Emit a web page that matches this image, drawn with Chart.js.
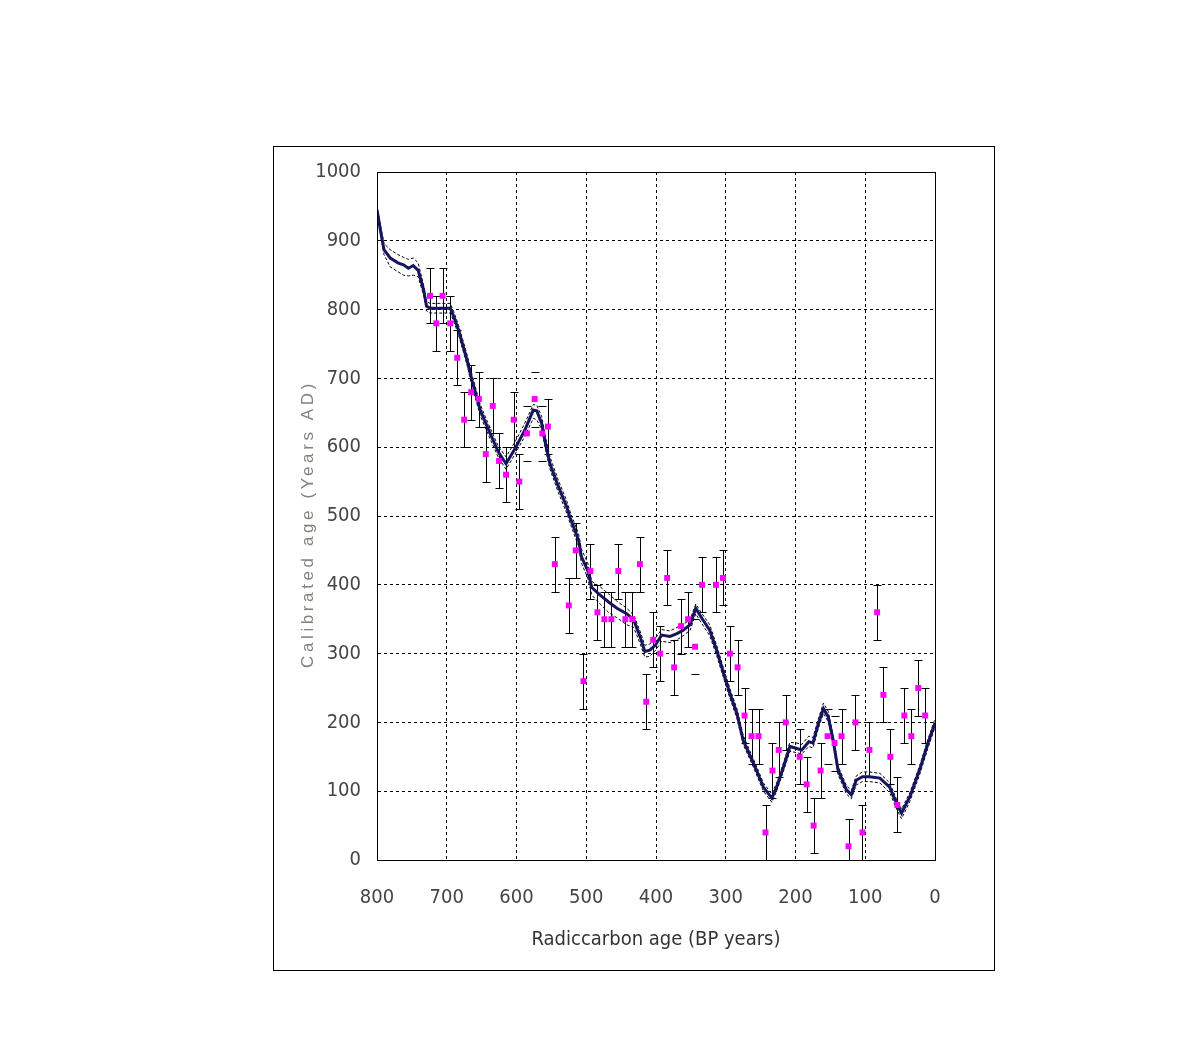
<!DOCTYPE html>
<html>
<head>
<meta charset="utf-8">
<script src="https://cdn.jsdelivr.net/npm/chart.js@4.4.1/dist/chart.umd.min.js"></script>
<style>
  html, body { margin: 0; padding: 0; background: #fff; }
  #wrap { width: 1190px; height: 1046px; }
</style>
</head>
<body>
<div id="wrap"><canvas id="calChart" width="1190" height="1046"></canvas></div>
<script>
// calibration curve (radiocarbon BP -> calendar AD)
const calAge = [800, 795, 790, 781, 770, 762, 755, 748, 741, 733, 729, 724, 710, 695, 690, 683, 671, 664, 652, 640,
  626, 615, 602, 588, 576, 571, 564, 557, 552, 540, 528, 523, 511, 507, 498, 492, 480, 468, 456, 442,
  432, 423, 416, 409, 401, 392, 380, 370, 361, 351, 343, 334, 323, 313, 303, 294, 284, 275, 260, 246,
  234, 227, 217, 208, 198, 191, 181, 175, 167, 160, 153, 146, 139, 127, 120, 113, 104, 94, 79, 65,
  55, 48, 36, 22, 10, 0];
const calMid = [945, 915, 887, 875, 868, 865, 860, 864, 857, 828, 805, 802, 802, 802, 790, 770, 727, 698, 654, 625,
  593, 576, 598, 625, 654, 653, 635, 598, 576, 543, 513, 497, 465, 441, 421, 396, 385, 375, 366, 358,
  349, 325, 303, 305, 312, 327, 325, 329, 334, 342, 366, 351, 334, 305, 271, 242, 213, 174, 140, 106,
  90, 106, 136, 165, 162, 160, 172, 170, 199, 220, 208, 174, 131, 102, 95, 116, 121, 121, 119, 106,
  82, 68, 92, 131, 170, 199];
const calUpper = [950, 922, 896, 887, 880, 876, 873, 875, 868, 835, 812, 809, 809, 809, 797, 777, 735, 706, 662, 633,
  601, 586, 608, 635, 662, 661, 645, 608, 586, 552, 522, 506, 474, 452, 432, 405, 397, 387, 376, 366,
  356, 333, 312, 314, 322, 335, 333, 338, 342, 350, 372, 358, 342, 312, 278, 249, 220, 181, 146, 112,
  96, 112, 142, 171, 170, 168, 180, 178, 206, 228, 216, 180, 137, 108, 101, 122, 128, 128, 126, 112,
  88, 74, 98, 137, 176, 205];
const calLower = [940, 910, 880, 862, 855, 850, 849, 850, 848, 820, 798, 795, 795, 795, 783, 763, 720, 690, 646, 617,
  585, 568, 590, 616, 642, 640, 626, 590, 568, 534, 504, 489, 456, 432, 410, 385, 372, 360, 352, 342,
  338, 315, 295, 296, 304, 318, 316, 320, 326, 334, 358, 343, 326, 297, 264, 235, 206, 168, 134, 100,
  84, 100, 130, 158, 156, 154, 165, 163, 192, 213, 201, 167, 124, 96, 89, 109, 114, 114, 112, 98,
  74, 60, 85, 124, 163, 193];

// dated samples with 1-sigma error bars
const sampleAge = [724, 706, 715, 695, 685, 675, 665, 654, 644, 634, 625, 615, 604, 596, 585, 574, 563, 555,
  545, 525, 515, 504, 494, 484, 474, 464, 454, 444, 434, 423, 414, 404, 394, 384, 374, 364, 354, 344,
  334, 314, 304, 294, 283, 273, 263, 253, 243, 233, 224, 214, 194, 184, 174, 164, 154, 144, 134, 124,
  114, 104, 94, 83, 74, 64, 54, 44, 34, 24, 14];
const sampleCal = [820, 820, 780, 780, 730, 640, 680, 670, 590, 660, 580, 560, 640, 550, 620, 670, 620, 630,
  430, 370, 450, 260, 420, 360, 350, 350, 420, 350, 350, 430, 230, 320, 300, 410, 280, 340, 350, 310,
  400, 400, 410, 300, 280, 210, 180, 180, 40, 130, 160, 200, 150, 110, 50, 130, 180, 170, 180, 20,
  200, 40, 160, 360, 240, 150, 80, 210, 180, 250, 210];
const sampleErr = [40, 40, 40, 40, 40, 40, 40, 40, 40, 40, 40, 40, 40, 40, 40, 40, 40, 40,
  40, 40, 40, 40, 40, 40, 40, 40, 40, 40, 40, 40, 40, 40, 40, 40, 40, 40, 40, 40,
  40, 40, 40, 40, 40, 40, 40, 40, 40, 40, 40, 40, 40, 40, 40, 40, 40, 40, 40, 40,
  40, 40, 40, 40, 40, 40, 40, 40, 40, 40, 40];
// samples where only the whisker caps show
const capsOnly = [574, 585, 563, 344, 154, 144];

const tickFont = { family: "'DejaVu Sans Condensed', 'Liberation Sans', sans-serif", size: 20 };

const toXY = (xs, ys) => xs.map((x, i) => ({ x, y: ys[i] }));

const framePlugin = {
  id: 'frame',
  beforeDraw(chart) {
    const ctx = chart.ctx;
    ctx.save();
    ctx.fillStyle = '#fff';
    ctx.fillRect(0, 0, chart.width, chart.height);
    ctx.strokeStyle = '#000';
    ctx.lineWidth = 1;
    ctx.strokeRect(273.5, 146.5, 721, 824);
    ctx.restore();
  },
  beforeDatasetsDraw(chart) {
    const { ctx, chartArea, scales } = chart;
    ctx.save();
    ctx.beginPath();
    ctx.rect(chartArea.left, chartArea.top, chartArea.right - chartArea.left, chartArea.bottom - chartArea.top);
    ctx.clip();
    ctx.strokeStyle = '#000';
    ctx.lineWidth = 1;
    sampleAge.forEach((age, i) => {
      const px = Math.round(scales.x.getPixelForValue(age)) + 0.5;
      const top = Math.round(scales.y.getPixelForValue(sampleCal[i] + sampleErr[i])) + 0.5;
      const bot = Math.round(scales.y.getPixelForValue(sampleCal[i] - sampleErr[i])) + 0.5;
      ctx.beginPath();
      if (!capsOnly.includes(age)) {
        ctx.moveTo(px, top);
        ctx.lineTo(px, bot);
      }
      ctx.moveTo(px - 4, top);
      ctx.lineTo(px + 4, top);
      ctx.moveTo(px - 4, bot);
      ctx.lineTo(px + 4, bot);
      ctx.stroke();
    });
    ctx.restore();
  },
  afterDraw(chart) {
    const { ctx, chartArea } = chart;
    ctx.save();
    ctx.strokeStyle = '#000';
    ctx.lineWidth = 1;
    ctx.strokeRect(Math.round(chartArea.left) + 0.5, Math.round(chartArea.top) + 0.5,
      Math.round(chartArea.right - chartArea.left), Math.round(chartArea.bottom - chartArea.top));
    // y axis title, widely spaced like the original
    ctx.translate(308, (chartArea.top + chartArea.bottom) / 2 + 8);
    ctx.rotate(-Math.PI / 2);
    ctx.fillStyle = '#86807a';
    ctx.font = "17px 'Liberation Sans', Arial, sans-serif";
    if ('letterSpacing' in ctx) ctx.letterSpacing = '3.6px';
    ctx.textAlign = 'center';
    ctx.textBaseline = 'middle';
    ctx.fillText('Calibrated age (Years AD)', 0, 0);
    ctx.restore();
  }
};

new Chart(document.getElementById('calChart'), {
  type: 'line',
  data: {
    datasets: [
      {
        label: 'samples',
        type: 'scatter',
        data: toXY(sampleAge, sampleCal),
        pointStyle: 'rect',
        pointRadius: 4.2,
        pointBackgroundColor: '#ff00ff',
        pointBorderWidth: 0,
        showLine: false
      },
      {
        label: 'calibration',
        data: toXY(calAge, calMid),
        borderColor: '#15155e',
        borderWidth: 3,
        pointRadius: 0,
        tension: 0
      },
      {
        label: 'upper',
        data: toXY(calAge, calUpper),
        borderColor: '#000',
        borderWidth: 1,
        borderDash: [3, 2],
        pointRadius: 0,
        tension: 0
      },
      {
        label: 'lower',
        data: toXY(calAge, calLower),
        borderColor: '#000',
        borderWidth: 1,
        borderDash: [3, 2],
        pointRadius: 0,
        tension: 0
      }
    ]
  },
  options: {
    responsive: false,
    animation: false,
    devicePixelRatio: 1,
    layout: { padding: { left: 273, right: 255, top: 172, bottom: 86 } },
    plugins: {
      legend: { display: false },
      tooltip: { enabled: false }
    },
    scales: {
      x: {
        type: 'linear',
        min: 0,
        max: 800,
        reverse: true,
        ticks: { stepSize: 100, padding: 26, color: '#454545', font: tickFont, maxRotation: 0, callback: v => String(v) },
        grid: { color: '#000', lineWidth: 1, drawTicks: false },
        border: { display: true, color: '#000', width: 1, dash: [3, 3] },
        title: {
          display: true,
          text: 'Radiccarbon age (BP years)',
          color: '#333',
          font: tickFont,
          padding: { top: 0, bottom: 8 }
        },
        afterFit(scale) { scale.height = 100; }
      },
      y: {
        type: 'linear',
        min: 0,
        max: 1000,
        ticks: { stepSize: 100, padding: 16, color: '#454545', font: tickFont, callback: v => String(v) },
        grid: { color: '#000', lineWidth: 1, drawTicks: false },
        border: { display: true, color: '#000', width: 1, dash: [3, 3] },
        afterFit(scale) { scale.width = 104; }
      }
    }
  },
  plugins: [framePlugin]
});
</script>
</body>
</html>
